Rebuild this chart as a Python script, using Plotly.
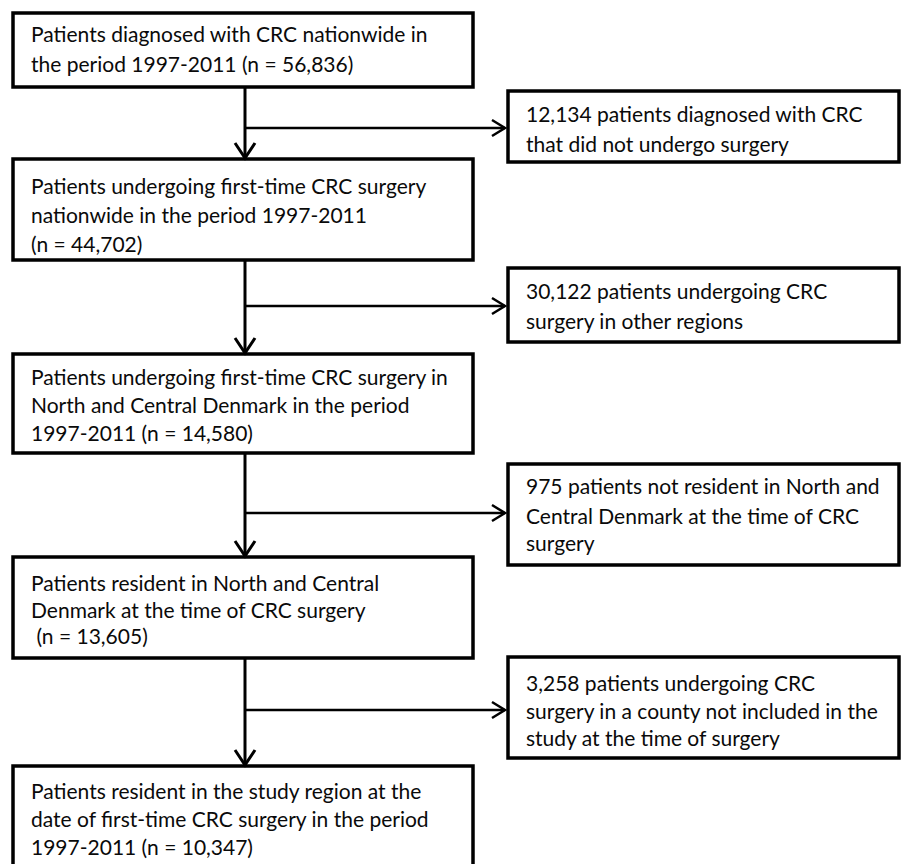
import plotly.graph_objects as go

# ---- data (text content of the flow chart) ----
main_steps = [
    ["Patients diagnosed with CRC nationwide in",
     "the period 1997-2011 (n = 56,836)"],
    ["Patients undergoing first-time CRC surgery",
     "nationwide in the period 1997-2011",
     "(n = 44,702)"],
    ["Patients undergoing first-time CRC surgery in",
     "North and Central Denmark in the period",
     "1997-2011 (n = 14,580)"],
    ["Patients resident in North and Central",
     "Denmark at the time of CRC surgery",
     "\u00a0(n = 13,605)"],
    ["Patients resident in the study region at the",
     "date of first-time CRC surgery in the period",
     "1997-2011 (n = 10,347)"],
]
excluded_steps = [
    ["12,134 patients diagnosed with CRC",
     "that did not undergo surgery"],
    ["30,122 patients undergoing CRC",
     "surgery in other regions"],
    ["975 patients not resident in North and",
     "Central Denmark at the time of CRC",
     "surgery"],
    ["3,258 patients undergoing CRC",
     "surgery in a county not included in the",
     "study at the time of surgery"],
]

# ---- layout geometry (pixels in the 909 x 864 page) ----
W, H = 909, 864
OFF = 8  # default page margin of the html body
main_x = (13, 473)
main_y = [(13, 87), (159, 260), (354, 453), (557, 658), (766, 880)]
main_line_y = [[33, 63], [185, 214, 243], [376, 404, 432], [582, 609, 635], [790, 818, 846]]
right_x = (508, 899)
right_y = [(91, 162), (268, 342), (464, 565), (657, 758)]
right_line_y = [[113, 143], [290, 320], [485, 515, 542], [682, 710, 737]]
branch_y = [128, 306, 513, 710]
spine_x = 245
text_font = dict(family="Lato, Carlito, 'Open Sans', sans-serif", size=21, color="#0a0a0a")

fig = go.Figure()
shapes = []
annotations = []

def add_box(x0, x1, y0, y1):
    shapes.append(dict(type="rect", xref="x", yref="y", x0=x0, x1=x1, y0=y0, y1=y1,
                       line=dict(color="black", width=3.5), fillcolor="white", layer="below"))

def add_lines(lines, ys, x):
    for t, y in zip(lines, ys):
        annotations.append(dict(x=x, y=y, xref="x", yref="y", text=t, showarrow=False,
                                xanchor="left", yanchor="middle", font=text_font))

for i, lines in enumerate(main_steps):
    add_box(main_x[0], main_x[1], *main_y[i])
    add_lines(lines, main_line_y[i], 29)

for i, lines in enumerate(excluded_steps):
    add_box(right_x[0], right_x[1], *right_y[i])
    add_lines(lines, right_line_y[i], 524)

# vertical arrows between main boxes
for i in range(len(main_steps) - 1):
    y_start = main_y[i][1]
    y_end = main_y[i + 1][0]
    fig.add_trace(go.Scatter(x=[spine_x, spine_x], y=[y_start, y_end], mode="lines",
                             line=dict(color="black", width=3), hoverinfo="skip", showlegend=False))
    fig.add_trace(go.Scatter(x=[spine_x - 10, spine_x, spine_x + 10],
                             y=[y_end - 16, y_end - 1, y_end - 16], mode="lines",
                             line=dict(color="black", width=3), hoverinfo="skip", showlegend=False))

# horizontal branch arrows to excluded boxes
for by in branch_y:
    tip = right_x[0] - 3
    fig.add_trace(go.Scatter(x=[spine_x, tip], y=[by, by], mode="lines",
                             line=dict(color="black", width=2.5), hoverinfo="skip", showlegend=False))
    fig.add_trace(go.Scatter(x=[tip - 13, tip, tip - 13], y=[by - 8, by, by + 8], mode="lines",
                             line=dict(color="black", width=2.5), hoverinfo="skip", showlegend=False))

fig.update_layout(
    width=W - OFF, height=H - OFF,
    margin=dict(l=0, r=0, t=0, b=0),
    paper_bgcolor="white", plot_bgcolor="white",
    shapes=shapes, annotations=annotations,
    xaxis=dict(range=[OFF, W], visible=False, fixedrange=True),
    yaxis=dict(range=[H, OFF], visible=False, fixedrange=True),
    showlegend=False,
)

fig.write_html("out.html", config={"displayModeBar": False})
